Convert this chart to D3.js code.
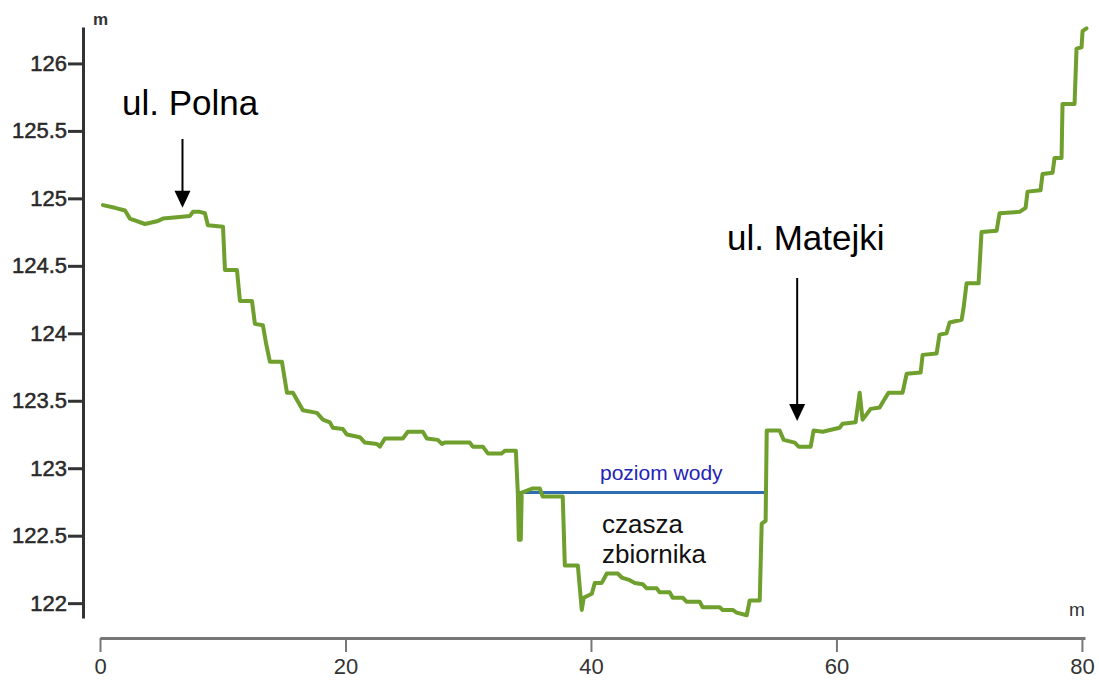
<!doctype html>
<html>
    <head>
        <title>Profil terenu - zbiornik</title>
        <style>
            body {
                margin: 0;
                overflow: hidden;
                background: #fff;
            }
            text {
                font-family: "Liberation Sans", Arial, sans-serif;
            }
        </style>
    </head>
    <body>
        <script src="https://cdn.jsdelivr.net/npm/d3@7"></script>
        <script>

            // terrain profile: distance along the section [m] and elevation [m]
            const distance = [
                0.24, 1.22, 2.04, 2.44, 3.66, 4.64, 5.13, 6.27, 7.33, 7.57,
                8.14, 8.55, 8.79, 10.02, 10.18, 11.16, 11.40, 12.38, 12.62, 13.27,
                13.52, 13.84, 14.82, 15.23, 15.72, 16.53, 17.67, 18.16, 18.73, 18.97,
                19.79, 20.11, 21.17, 21.58, 22.56, 22.80, 23.21, 24.67, 25.08, 26.30,
                26.63, 27.52, 27.85, 28.09, 30.13, 30.37, 31.19, 31.60, 32.74, 32.98,
                33.88, 34.04, 34.12, 34.28, 34.36, 35.26, 35.83, 36.07, 37.70, 37.87,
                38.93, 39.25, 39.41, 40.07, 40.31, 40.88, 41.29, 42.18, 42.51, 43.16,
                43.57, 44.22, 44.54, 45.36, 45.60, 46.42, 46.66, 47.48, 47.80, 48.86,
                49.10, 50.49, 50.73, 51.55, 51.87, 52.69, 52.93, 53.75, 53.91, 54.23,
                54.32, 55.37, 55.70, 56.60, 56.92, 57.90, 58.14, 58.88, 60.26, 60.50,
                61.56, 61.89, 62.13, 62.79, 63.52, 63.84, 64.25, 65.39, 65.72, 66.86,
                67.02, 68.16, 68.40, 68.97, 69.22, 70.20, 70.36, 70.60, 71.58, 71.82,
                73.05, 73.29, 74.92, 75.41, 75.57, 76.63, 76.79, 77.61, 77.77, 78.34,
                78.42, 79.40, 79.56, 79.97, 80.05, 80.37
            ];
            const elevation = [
                124.95, 124.93, 124.91, 124.85, 124.81, 124.83, 124.85, 124.86, 124.87, 124.90,
                124.90, 124.89, 124.80, 124.79, 124.47, 124.47, 124.24, 124.24, 124.07, 124.06,
                123.93, 123.79, 123.79, 123.56, 123.56, 123.43, 123.41, 123.36, 123.34, 123.30,
                123.29, 123.25, 123.23, 123.19, 123.18, 123.16, 123.22, 123.22, 123.27, 123.27,
                123.22, 123.21, 123.18, 123.19, 123.19, 123.16, 123.16, 123.11, 123.11, 123.13,
                123.13, 122.82, 122.47, 122.47, 122.82, 122.85, 122.85, 122.79, 122.79, 122.28,
                122.28, 121.95, 122.04, 122.07, 122.15, 122.15, 122.22, 122.22, 122.19, 122.17,
                122.15, 122.14, 122.11, 122.11, 122.08, 122.08, 122.04, 122.04, 122.01, 122.01,
                121.97, 121.97, 121.95, 121.95, 121.93, 121.91, 122.02, 122.02, 122.59, 122.61,
                123.28, 123.28, 123.21, 123.19, 123.16, 123.16, 123.28, 123.27, 123.30, 123.33,
                123.34, 123.56, 123.36, 123.44, 123.45, 123.50, 123.56, 123.56, 123.70, 123.71,
                123.84, 123.85, 123.99, 124.00, 124.08, 124.10, 124.19, 124.37, 124.37, 124.75,
                124.76, 124.89, 124.90, 124.93, 125.05, 125.06, 125.18, 125.19, 125.30, 125.30,
                125.70, 125.70, 126.11, 126.12, 126.24, 126.26
            ];

            // water level in the reservoir
            const waterLevel = 122.82;
            const waterSpan = [34.04, 54.15];

            const xTicks = [0, 20, 40, 60, 80];
            const yTicks = [122, 122.5, 123, 123.5, 124, 124.5, 125, 125.5, 126];

            const width = 1099;
            const height = 684;

            const svg = d3.select('body')
                .append('svg')
                .attr('width', width)
                .attr('height', height);

            const x = d3.scaleLinear().domain([0, 80.25]).range([100, 1085]);
            const y = d3.scaleLinear().domain([121.89, 126.27]).range([618, 27]);

            // y axis
            const yAxis = svg.append('g')
                .attr('transform', 'translate(83,0)')
                .call(d3.axisLeft(y).tickValues(yTicks).tickSize(15).tickSizeOuter(0).tickPadding(1)
                    .tickFormat(d3.format('')));
            yAxis.select('.domain').attr('stroke', '#333').attr('stroke-width', 3);
            yAxis.selectAll('.tick line').attr('stroke', '#333').attr('stroke-width', 3);
            yAxis.selectAll('.tick text')
                .attr('fill', '#2a2a2a')
                .attr('stroke', '#2a2a2a')
                .attr('stroke-width', 0.5)
                .style('font-size', '22px')
                .style('font-family', '"Liberation Sans", Arial, sans-serif');

            svg.append('text')
                .attr('x', 93).attr('y', 25)
                .attr('fill', '#333')
                .style('font-size', '17px')
                .style('font-weight', 'bold')
                .text('m');

            // x axis
            const xAxis = svg.append('g')
                .attr('transform', 'translate(0,638)')
                .call(d3.axisBottom(x).tickValues(xTicks).tickSize(14).tickSizeOuter(0).tickPadding(6));
            xAxis.select('.domain').attr('stroke', '#777').attr('stroke-width', 3);
            xAxis.selectAll('.tick line').attr('stroke', '#777').attr('stroke-width', 2);
            xAxis.selectAll('.tick text')
                .attr('fill', '#333')
                .style('font-size', '22px')
                .style('font-family', '"Liberation Sans", Arial, sans-serif');

            svg.append('text')
                .attr('x', 1077).attr('y', 616)
                .attr('text-anchor', 'middle')
                .attr('fill', '#333')
                .style('font-size', '19px')
                .text('m');

            // water level
            svg.append('line')
                .attr('x1', x(waterSpan[0])).attr('x2', x(waterSpan[1]))
                .attr('y1', y(waterLevel)).attr('y2', y(waterLevel))
                .attr('stroke', '#2f6db2')
                .attr('stroke-width', 3);

            // terrain profile
            const profile = distance.map((d, i) => ({ d: d, h: elevation[i] }));
            const line = d3.line()
                .x((p) => x(p.d))
                .y((p) => y(p.h));

            svg.append('path')
                .datum(profile)
                .attr('d', line)
                .attr('fill', 'none')
                .attr('stroke', '#6f9f2d')
                .attr('stroke-width', 4)
                .attr('stroke-linejoin', 'round')
                .attr('stroke-linecap', 'round');

            // annotations
            const arrow = (px, top, tip) => {
                svg.append('line')
                    .attr('x1', px).attr('x2', px)
                    .attr('y1', top).attr('y2', tip - 12)
                    .attr('stroke', '#000')
                    .attr('stroke-width', 2);
                svg.append('path')
                    .attr('d', `M${px},${tip} L${px - 8},${tip - 17} L${px + 8},${tip - 17} Z`)
                    .attr('fill', '#000');
            };

            svg.append('text')
                .attr('x', 122).attr('y', 115)
                .attr('fill', '#000')
                .style('font-size', '35px')
                .text('ul. Polna');
            arrow(x(6.72), y(125.44), y(124.93));

            svg.append('text')
                .attr('x', 727).attr('y', 250)
                .attr('fill', '#000')
                .style('font-size', '35px')
                .text('ul. Matejki');
            arrow(x(56.8), y(124.41), y(123.35));

            svg.append('text')
                .attr('x', 600).attr('y', 480)
                .attr('fill', '#2424b4')
                .style('font-size', '21px')
                .text('poziom wody');

            svg.append('text')
                .attr('x', 602).attr('y', 533)
                .attr('fill', '#111')
                .style('font-size', '26px')
                .text('czasza');
            svg.append('text')
                .attr('x', 602).attr('y', 563)
                .attr('fill', '#111')
                .style('font-size', '26px')
                .text('zbiornika');

        </script>
    </body>
</html>
